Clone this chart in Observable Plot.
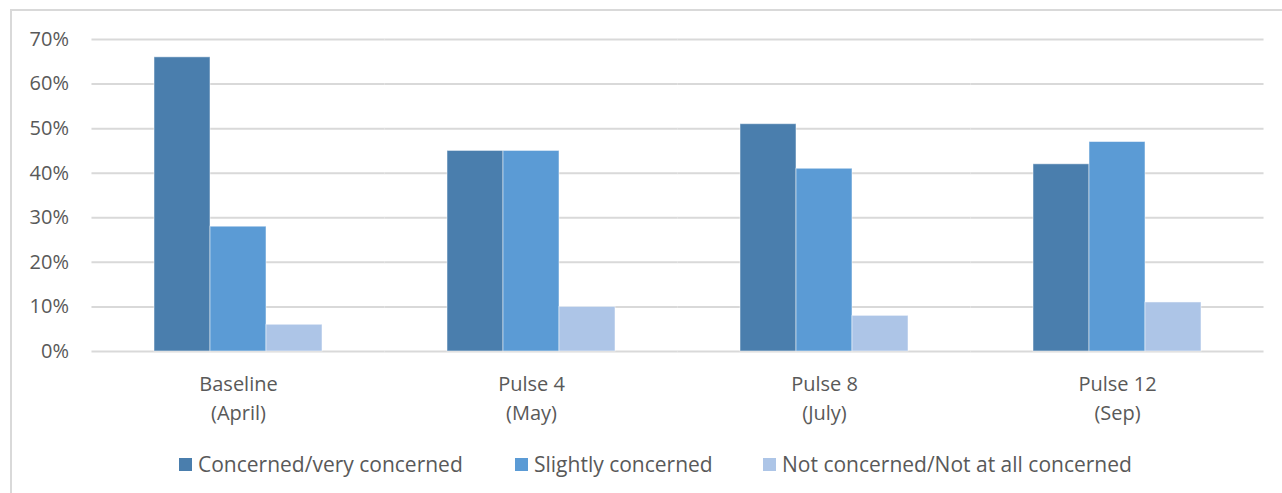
<!DOCTYPE html>
<html>
<head>
<meta charset="utf-8">
<script src="https://cdn.jsdelivr.net/npm/d3@7"></script>
<script src="https://cdn.jsdelivr.net/npm/@observablehq/plot@0.6"></script>
<style>
  html, body { margin: 0; padding: 0; background: #fff; overflow: hidden; }
  body { width: 1282px; height: 493px; position: relative; font-family: "Open Sans", sans-serif; }
  #frame { position: absolute; left: 10px; top: 9px; width: 1300px; height: 520px; border: 2px solid #d9d9d9; box-sizing: border-box; }
  #chart { position: absolute; left: 0; top: 0; }
  #legend { position: absolute; left: 0; top: 450px; width: 1282px; height: 28px; color: #595959; font-size: 21px; }
  .item { position: absolute; top: 0; display: flex; align-items: center; height: 28px; white-space: nowrap; }
  .sw { width: 13px; height: 13px; margin-right: 6px; }
</style>
</head>
<body>
<div id="frame"></div>
<div id="chart"></div>
<div id="legend"></div>
<script>
const groups = ["Baseline\n(April)", "Pulse 4\n(May)", "Pulse 8\n(July)", "Pulse 12\n(Sep)"];
const series = ["Concerned/very concerned", "Slightly concerned", "Not concerned/Not at all concerned"];
const concerned = [66, 45, 51, 42];
const slightly = [28, 45, 41, 47];
const notConcerned = [6, 10, 8, 11];
const yTicks = [0, 10, 20, 30, 40, 50, 60, 70];
const colors = ["#4a7ead", "#5b9bd5", "#adc5e7"];
const legendLeft = [179, 515, 763];

const valuesBySeries = [concerned, slightly, notConcerned];
const rows = [];
groups.forEach((g, i) => series.forEach((s, j) => rows.push({group: g, series: s, value: valuesBySeries[j][i]})));

const W = 1282, ML = 91, MR = 19, PAD = 0.42;
const step = (W - ML - MR) / groups.length;
const halfGap = step * PAD / 2;

const chart = Plot.plot({
  width: W,
  height: 440,
  marginLeft: ML,
  marginRight: MR,
  marginTop: 39,
  marginBottom: 89,
  style: {fontFamily: "'Open Sans', sans-serif", color: "#595959", background: "transparent"},
  fx: {domain: groups, paddingInner: PAD, paddingOuter: PAD / 2, label: null},
  x: {domain: series, padding: 0, axis: null},
  y: {domain: [0, 70], label: null},
  color: {domain: series, range: colors},
  marks: [
    Plot.ruleY(yTicks, {stroke: "#d9d9d9", strokeWidth: 2, insetLeft: -halfGap, insetRight: -halfGap}),
    Plot.barY(rows, {fx: "group", x: "series", y: "value", fill: "series", stroke: "#ffffff", strokeOpacity: 0.5, strokeWidth: 1}),
    Plot.axisY(yTicks, {tickSize: 0, tickPadding: 23 + halfGap, tickFormat: d => d + "%", fontSize: 20, fill: "#595959", label: null}),
    Plot.axisFx({anchor: "bottom", tickSize: 0, tickPadding: 19, fontSize: 20, lineHeight: 1.45, fill: "#595959", label: null})
  ]
});
document.getElementById("chart").appendChild(chart);

const legend = document.getElementById("legend");
series.forEach((s, i) => {
  const item = document.createElement("div");
  item.className = "item";
  item.style.left = legendLeft[i] + "px";
  const sw = document.createElement("span");
  sw.className = "sw";
  sw.style.background = colors[i];
  const label = document.createElement("span");
  label.textContent = s;
  item.appendChild(sw);
  item.appendChild(label);
  legend.appendChild(item);
});
</script>
</body>
</html>
